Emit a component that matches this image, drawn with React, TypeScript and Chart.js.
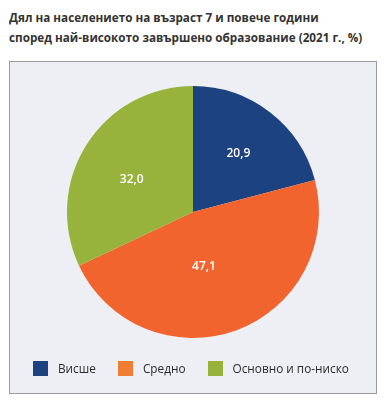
import React, { useEffect, useRef } from "react";
import { Chart, registerables } from "chart.js";

Chart.register(...registerables);

const titleLines = [
  "Дял на населението на възраст 7 и повече години",
  "според най-високото завършено образование (2021 г., %)",
];
const categories = ["Висше", "Средно", "Основно и по-ниско"];
const values = [20.9, 47.1, 32.0];
const sliceColors = ["#1c4280", "#f2642e", "#98b33c"];
const legendColors = ["#1c4280", "#ef7e33", "#98b33c"];
const labelRadius = [0.59, 0.44, 0.55];
const labelAngleShift = [0, 0.15, -0.08];

const fmt = (v: number) => v.toFixed(1).replace(".", ",");

const labelPlugin = {
  id: "sliceLabels",
  afterDatasetsDraw(chart: any) {
    const ctx = chart.ctx;
    const meta = chart.getDatasetMeta(0);
    ctx.save();
    ctx.fillStyle = "#ffffff";
    ctx.font = "600 12px 'Open Sans'";
    ctx.textAlign = "center";
    ctx.textBaseline = "middle";
    meta.data.forEach((arc: any, i: number) => {
      const p = arc.getProps(["x", "y", "startAngle", "endAngle", "outerRadius"], true);
      const mid = (p.startAngle + p.endAngle) / 2 + labelAngleShift[i];
      const r = p.outerRadius * labelRadius[i];
      ctx.fillText(fmt(values[i]), p.x + Math.cos(mid) * r, p.y + Math.sin(mid) * r);
    });
    ctx.restore();
  },
};

export default function App() {
  const canvasRef = useRef<HTMLCanvasElement>(null);
  const titleRef = useRef<HTMLDivElement>(null);

  useEffect(() => {
    document.body.style.margin = "0";
    const t = titleRef.current;
    if (t) {
      const spans = t.querySelectorAll("span");
      const w = (spans[1] as HTMLElement).offsetWidth;
      const s = 353 / w;
      spans.forEach((sp) => {
        (sp as HTMLElement).style.transform = `scaleX(${s})`;
      });
    }
    const chart = new Chart(canvasRef.current!, {
      type: "pie",
      data: {
        labels: categories,
        datasets: [{ data: values, backgroundColor: sliceColors, borderWidth: 0 }],
      },
      options: {
        animation: false,
        responsive: false,
        maintainAspectRatio: false,
        layout: { padding: { top: 24, bottom: 55, left: 0, right: 0 } },
        plugins: { legend: { display: false }, tooltip: { enabled: false } },
      },
      plugins: [labelPlugin],
    });
    return () => chart.destroy();
  }, []);

  return (
    <div style={{ position: "relative", width: 389, height: 404, background: "#fff", overflow: "hidden" }}>
      <div
        ref={titleRef}
        style={{
          position: "absolute",
          left: 9,
          top: 7,
          font: "bold 13px 'Open Sans'",
          lineHeight: "20px",
          color: "#333333",
          whiteSpace: "nowrap",
        }}
      >
        {titleLines.map((l, i) => (
          <div key={i}>
            <span style={{ display: "inline-block", transformOrigin: "left center" }}>{l}</span>
          </div>
        ))}
      </div>
      <div
        style={{
          position: "absolute",
          left: 9,
          top: 61,
          width: 366,
          height: 331,
          border: "1px solid #9b9b9b",
          background: "#eeeff5",
        }}
      >
        <canvas ref={canvasRef} width={366} height={331} style={{ display: "block" }} />
        <div
          style={{
            position: "absolute",
            left: 23,
            top: 299,
            display: "flex",
            alignItems: "center",
            font: "11.8px 'Open Sans'",
            color: "#2b2b2b",
            whiteSpace: "nowrap",
          }}
        >
          {categories.map((c, i) => (
            <div key={c} style={{ display: "flex", alignItems: "center", marginRight: 22 }}>
              <span style={{ width: 15, height: 15, background: legendColors[i], marginRight: 10, display: "inline-block" }} />
              <span style={{ lineHeight: "15px" }}>{c}</span>
            </div>
          ))}
        </div>
      </div>
    </div>
  );
}
